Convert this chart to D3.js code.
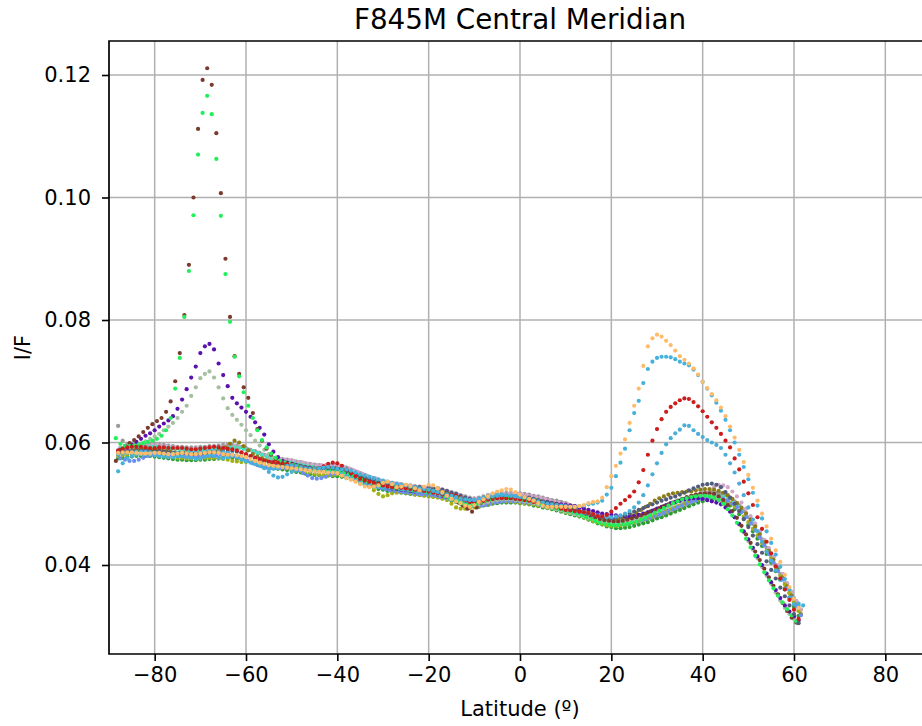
<!DOCTYPE html>
<html>
<head>
<meta charset="utf-8">
<script src="https://cdn.jsdelivr.net/npm/d3@7"></script>
<style>
  body { margin: 0; background: #fff; }
  svg { display: block; font-family: 'DejaVu Sans', sans-serif; }
</style>
</head>
<body>
<svg id="chart" width="922" height="726"></svg>
<script>
// I/F values below are stored x 10^4, one value per degree of latitude

const xTicks = [-80, -60, -40, -20, 0, 20, 40, 60, 80]
const yTicks = [400, 600, 800, 1000, 1200]

// left (south) peak
const brownVals = [
  570,588,594,599,604,610,617,624,630,635,640,650,667,700,746,808,890,1000,1112,1192,
  1211,1184,1105,1007,900,805,741,712,690,673,648,622,603,590,580,573,569,567,565,564,
  562,560,558,557,556,556,557,558,558,556,553,550,547,544,541,538,535,532,530,528,
  527,526,525,524,523,522,521,521,520,519,518,516,514,511,507,502,497,492,487,494,
  502,507,509,510,511,511,511,510,509,508,507,506,504,503,501,499,497,495,493,491,
  489,487,485,483,480,477,475,473,472,471,471,472,474,476,478,481,484,487,490,493,
  496,499,502,505,508,511,513,515,516,517,517,516,512,506,498,488,477,464,450,436,
  422,408,394,380,366,352,338,325,314,306]
const greenVals = [
  607,598,594,594,595,597,599,601,603,606,611,620,640,688,738,805,880,971,1070,1138,
  1166,1136,1063,970,875,797,740,708,682,660,640,620,604,592,582,575,570,567,565,563,
  561,559,557,556,555,555,555,555,554,553,551,548,545,542,539,536,533,531,529,528,
  527,526,525,524,523,522,521,520,519,518,517,515,513,510,507,504,501,499,498,500,
  503,506,508,509,510,510,510,509,508,507,506,504,502,500,498,496,494,492,490,488,
  486,484,481,478,475,472,469,467,466,465,465,466,467,469,471,474,477,481,485,489,
  493,497,501,504,507,509,511,512,513,513,512,510,506,500,491,481,469,456,443,429,
  415,401,388,375,362,350,339,328,318,308]
const purpleVals = [
  586,588,591,596,601,606,611,615,620,626,631,636,643,655,670,687,706,724,746,757,
  761,752,729,710,692,673,664,657,650,642,633,624,613,597,585,576,570,567,565,563,
  561,559,557,556,555,555,555,556,556,555,552,548,544,540,536,533,530,528,527,526,
  525,524,523,522,521,520,520,519,518,517,515,513,511,509,507,505,504,503,503,504,
  505,507,508,509,510,510,509,509,508,507,506,505,504,503,502,501,500,499,498,497,
  496,494,492,490,488,486,484,483,482,481,480,479,479,480,482,484,486,489,492,495,
  498,501,503,505,507,508,509,509,508,506,504,502,499,494,487,478,467,455,442,428,
  414,400,386,372,359,346,334,324,316,310]
const sageVals = [
  585,587,590,592,595,598,602,606,610,614,620,626,632,640,650,660,676,690,705,712,
  716,706,690,672,656,645,637,629,620,612,603,595,588,581,575,570,567,565,564,563,
  561,559,557,556,555,554,554,554,554,553,550,546,542,539,536,533,531,529,528,527,
  526,525,524,523,522,521,520,519,518,517,515,513,510,507,504,501,499,498,498,499,
  501,503,505,506,507,507,507,506,505,504,503,501,499,497,495,493,491,489,487,485,
  483,481,479,477,475,473,471,470,469,469,469,470,472,474,477,480,483,486,489,492,
  495,498,501,504,507,509,511,513,514,514,513,510,505,498,489,478,466,453,439,425,
  411,397,383,369,355,342,330,320,312,307]

// right (north) peak
const orangeVals = [
  583,584,584,584,583,582,582,582,583,583,582,581,581,582,583,582,581,581,582,583,
  584,584,583,581,580,580,579,578,576,573,570,567,565,563,562,561,560,559,558,557,
  556,555,554,553,552,552,551,551,550,546,542,539,536,532,528,527,528,530,534,536,
  532,527,528,531,529,525,522,528,531,530,525,519,513,508,504,501,497,495,498,503,
  507,512,517,520,522,524,523,519,515,511,508,505,501,497,495,495,495,495,495,495,
  495,496,498,501,503,504,510,527,545,562,582,605,632,660,688,725,757,770,776,773,
  766,759,750,741,735,729,721,711,699,689,679,669,657,643,626,608,588,568,547,526,
  505,484,463,443,424,405,384,364,345,330]
const blueHighVals = [
  553,566,574,578,580,581,581,580,579,578,577,576,576,577,578,577,575,573,574,577,
  579,578,575,574,576,578,576,572,569,567,565,563,560,558,557,558,560,562,563,562,
  560,558,557,557,558,559,560,559,557,556,556,554,551,548,546,544,542,540,538,536,
  534,533,531,530,528,527,525,524,523,521,519,517,515,513,511,509,507,506,506,507,
  508,510,512,513,514,514,513,512,511,510,508,506,504,502,500,499,498,497,496,495,
  495,496,497,499,500,502,505,515,526,545,567,590,620,648,668,697,720,732,738,740,
  740,739,736,732,729,726,719,710,699,688,677,665,652,637,620,600,580,560,540,518,
  497,476,455,436,417,397,377,360,346,337,334]
const redVals = [
  587,590,592,593,593,593,592,591,591,592,592,591,591,591,591,590,589,589,590,591,
  592,593,592,591,590,589,587,584,581,578,575,573,571,569,568,567,566,565,564,562,
  560,558,557,557,558,561,565,567,566,562,556,550,545,541,538,536,534,532,530,528,
  527,526,526,525,524,523,522,521,520,518,517,515,514,514,513,510,506,503,502,503,
  505,507,508,509,509,509,509,508,507,506,505,503,502,500,498,496,494,492,490,489,
  488,487,486,485,483,480,479,482,487,493,500,506,512,520,535,555,580,603,622,638,
  650,658,664,669,672,671,666,659,651,642,633,624,614,603,592,574,556,536,517,498,
  478,459,438,419,398,378,360,343,327,312]
const blueLowVals = [
  580,582,583,584,585,585,585,584,583,582,581,581,582,583,584,584,583,583,584,585,
  586,586,585,584,583,581,578,575,571,568,565,562,558,552,546,543,544,548,552,554,
  555,555,554,553,553,552,552,551,550,548,545,541,538,535,532,530,528,527,526,526,
  526,525,524,523,522,521,520,519,518,517,516,514,512,510,508,506,505,505,506,508,
  510,512,514,515,515,514,513,512,511,509,507,505,503,501,499,497,495,493,491,489,
  487,486,485,484,483,481,479,478,478,479,481,484,488,494,502,514,530,548,566,583,
  597,607,615,621,628,627,620,614,609,604,600,596,591,580,566,551,533,514,494,474,
  455,438,422,407,391,376,360,346,336,334]

// band series (no peak)
const slateVals = [
  583,584,585,586,587,587,587,587,587,586,585,584,583,582,582,581,581,581,582,583,
  584,584,585,585,586,586,585,583,580,577,575,572,570,568,566,565,564,563,563,562,
  561,560,559,558,558,558,558,557,557,556,554,551,549,546,543,541,539,536,534,532,
  531,530,529,528,528,527,527,526,526,525,525,523,521,518,516,513,510,508,506,506,
  507,508,510,511,512,513,513,512,512,511,510,508,506,504,503,501,499,497,495,492,
  490,488,486,484,482,480,478,477,476,477,479,481,484,487,490,493,496,499,502,505,
  507,510,512,515,518,522,525,528,531,532,533,531,527,519,510,500,488,475,462,448,
  434,420,406,392,378,363,349,334,320,305]
const oliveVals = [
  584,585,586,587,588,588,588,588,588,587,586,585,584,583,583,582,582,582,582,583,
  584,585,588,592,598,603,600,594,587,581,577,574,571,568,566,565,564,563,561,560,
  558,557,556,555,555,554,554,553,553,552,550,547,544,541,538,535,532,530,528,527,
  526,525,524,523,522,521,521,520,520,519,519,518,516,514,511,507,503,500,499,498,
  500,502,504,506,507,508,508,508,508,507,506,505,504,502,501,499,497,495,493,491,
  489,486,484,481,479,477,475,474,474,474,476,478,481,485,490,495,500,505,509,512,
  515,517,518,519,520,520,522,523,524,524,523,521,518,514,508,501,493,484,474,463,
  450,437,423,409,395,380,365,350,335,320]
const yellowOliveVals = [
  578,579,580,581,581,581,581,581,580,579,578,577,576,575,575,574,574,574,574,575,
  575,575,574,573,572,570,569,568,568,569,570,569,567,564,562,560,559,558,557,556,
  554,552,551,549,548,547,547,547,548,547,546,543,540,537,533,528,522,516,512,514,
  517,518,519,518,517,515,514,513,512,511,510,508,506,500,494,492,492,493,494,496,
  498,500,502,503,504,504,504,503,502,501,500,499,497,496,494,493,491,489,487,485,
  483,481,478,475,472,470,467,465,464,464,465,466,468,470,472,474,477,479,482,485,
  488,491,494,497,500,503,505,507,509,510,511,510,509,505,501,495,488,479,470,459,
  448,436,423,410,396,382,368,354,339,325]
const darkGreenVals = [
  574,575,576,577,578,578,578,578,577,576,575,574,573,572,572,571,571,571,572,572,
  573,573,574,575,575,575,574,573,571,569,567,564,562,560,559,557,556,555,554,552,
  551,549,548,547,547,546,546,545,545,544,542,540,537,534,532,529,527,524,523,521,
  520,519,518,517,516,515,515,514,513,512,511,509,507,505,503,500,498,496,496,495,
  497,498,500,501,502,502,502,502,501,500,499,497,496,494,493,491,489,487,485,483,
  481,479,477,474,471,468,466,463,462,460,460,461,462,464,466,468,470,473,476,478,
  481,484,487,490,493,496,499,502,504,506,507,507,505,502,497,491,483,475,465,455,
  443,431,418,404,390,376,362,347,332,317]
const turquoiseVals = [
  590,590,591,592,593,593,593,593,593,592,591,590,590,589,589,588,588,588,589,589,
  590,590,591,591,592,592,591,590,588,586,583,580,577,574,571,569,568,567,566,564,
  563,561,560,558,557,556,556,556,556,555,553,550,547,544,541,538,535,533,531,529,
  528,527,526,525,524,523,522,521,520,519,518,516,514,511,509,506,503,501,500,501,
  502,504,506,508,509,510,510,510,509,508,507,506,504,502,500,498,496,494,492,490,
  487,485,483,480,478,475,473,471,469,468,467,468,469,471,473,475,478,480,483,486,
  489,492,495,498,502,505,508,510,512,513,514,513,511,507,502,496,488,479,469,458,
  446,433,419,405,391,377,362,347,332,318]
const lilacVals = [
  592,593,594,595,596,596,596,596,596,595,594,593,592,591,591,590,590,590,590,591,
  592,592,593,594,594,594,593,591,589,586,584,581,579,576,575,573,572,571,570,568,
  567,565,564,563,563,563,563,563,562,560,558,555,552,549,546,543,541,538,536,534,
  533,532,531,529,528,527,527,526,525,524,523,521,519,517,515,512,510,508,508,508,
  510,512,514,515,516,516,516,516,515,514,513,511,510,508,506,504,502,500,498,495,
  493,490,488,485,482,479,477,474,473,471,471,472,473,475,477,479,481,483,485,488,
  491,494,497,501,504,508,512,516,519,523,527,531,530,527,520,512,502,492,480,468,
  455,441,427,413,399,385,370,356,341,327]
const greyVals = [
  627,603,597,598,598,598,598,598,598,597,596,595,594,593,593,592,592,592,593,593,
  594,594,595,596,596,596,595,593,591,588,586,583,580,577,575,574,573,572,571,569,
  568,566,565,564,563,562,562,562,562,561,559,556,553,550,547,544,542,539,537,535,
  534,533,532,531,530,529,528,527,527,526,525,523,521,519,517,514,512,510,509,510,
  512,514,516,517,518,518,518,517,517,516,515,513,512,510,508,506,505,503,501,498,
  496,493,491,488,486,483,480,478,476,475,475,476,477,479,481,483,486,488,491,493,
  496,499,502,505,508,510,513,515,517,518,519,518,517,514,510,504,497,488,478,467,
  455,442,428,414,400,385,370,355,340,325]
const cornflowerVals = [
  574,572,570,570,572,575,578,580,581,581,580,580,579,578,577,577,577,577,577,578,
  578,579,580,580,579,578,576,573,570,566,563,561,559,558,558,558,558,559,557,555,
  550,546,542,541,542,544,547,549,550,551,549,546,542,539,535,532,529,526,524,522,
  521,520,519,518,517,516,515,515,514,513,511,510,508,506,503,501,499,497,497,497,
  498,500,502,503,504,504,504,504,503,502,501,500,498,497,495,494,492,490,488,486,
  484,482,480,478,475,473,471,469,468,467,467,468,469,471,473,475,477,480,482,485,
  488,491,494,497,500,503,505,508,510,511,511,511,508,505,500,494,486,478,468,457,
  445,432,418,404,390,376,362,347,333,318]
const tanVals = [
  591,592,593,594,595,595,595,595,595,594,593,592,591,590,590,589,589,589,590,590,
  591,591,592,593,593,593,592,590,588,585,583,580,578,575,573,572,571,570,569,567,
  566,564,563,562,561,560,560,560,560,559,557,554,551,548,545,542,540,537,535,533,
  531,530,529,528,527,526,525,524,524,523,522,520,518,516,514,511,509,507,506,507,
  509,511,513,514,515,515,515,514,514,513,512,510,509,507,506,504,503,501,499,496,
  494,491,489,486,484,481,478,475,473,471,470,470,470,471,472,474,476,478,480,482,
  485,488,491,494,498,501,505,508,511,513,515,515,514,511,507,501,494,485,476,465,
  453,440,427,413,399,385,370,356,341,327]

// first latitude of each series; draw order, first = bottom
const series = [
  { values: tanVals, color: '#c4a08e', lat0: -87.5 },
  { values: greyVals, color: '#9a9a9a', lat0: -88 },
  { values: lilacVals, color: '#d2a6cb', lat0: -87.5 },
  { values: turquoiseVals, color: '#40e3bc', lat0: -87.5 },
  { values: darkGreenVals, color: '#2d9e36', lat0: -88 },
  { values: yellowOliveVals, color: '#a4b012', lat0: -88 },
  { values: oliveVals, color: '#8a7c16', lat0: -87.5 },
  { values: cornflowerVals, color: '#6c8ef0', lat0: -87.5 },
  { values: sageVals, color: '#a5c0a0', lat0: -88 },
  { values: purpleVals, color: '#5a12ae', lat0: -88 },
  { values: brownVals, color: '#7a3b2e', lat0: -88.5 },
  { values: greenVals, color: '#1ff05a', lat0: -88.5 },
  { values: slateVals, color: '#515b7a', lat0: -88 },
  { values: blueLowVals, color: '#4aaed6', lat0: -88 },
  { values: redVals, color: '#cc1c1c', lat0: -88 },
  { values: blueHighVals, color: '#45b2dc', lat0: -88 },
  { values: orangeVals, color: '#ffbb6a', lat0: -88 },
]

const svg = d3.select('#chart')

const plotLeft = 109
const plotTop = 41
const plotBottom = 654
const plotRight = 931

const x = d3.scaleLinear().domain([-90, 90]).range([plotLeft, plotRight])
const y = d3.scaleLinear().domain([254.7, 1255.5]).range([plotBottom, plotTop])

// --------------------------------------------------------------
// grid
svg
  .append('g')
  .attr('class', 'grid')
  .selectAll('line')
  .data(xTicks)
  .join('line')
  .attr('x1', (d) => x(d))
  .attr('x2', (d) => x(d))
  .attr('y1', plotTop)
  .attr('y2', plotBottom)
  .attr('stroke', '#b0b0b0')
  .attr('stroke-width', 1.5)

svg
  .append('g')
  .attr('class', 'grid')
  .selectAll('line')
  .data(yTicks)
  .join('line')
  .attr('x1', plotLeft)
  .attr('x2', plotRight)
  .attr('y1', (d) => y(d))
  .attr('y2', (d) => y(d))
  .attr('stroke', '#b0b0b0')
  .attr('stroke-width', 1.5)

// --------------------------------------------------------------
// dots
series.forEach((s) => {
  svg
    .append('g')
    .attr('fill', s.color)
    .selectAll('circle')
    .data(s.values)
    .join('circle')
    .attr('cx', (d, i) => x(s.lat0 + i))
    .attr('cy', (d) => y(d))
    .attr('r', 2.1)
})

// --------------------------------------------------------------
// axes
const xAxis = d3
  .axisBottom(x)
  .tickValues(xTicks)
  .tickSize(7)
  .tickPadding(6)
  .tickFormat(d3.format('d'))

const yAxis = d3
  .axisLeft(y)
  .tickValues(yTicks)
  .tickSize(7)
  .tickPadding(11)
  .tickFormat((d) => d3.format('.2f')(d / 1e4))

const gx = svg.append('g').attr('transform', `translate(0,${plotBottom})`).call(xAxis)
const gy = svg.append('g').attr('transform', `translate(${plotLeft},0)`).call(yAxis)

;[gx, gy].forEach((g) => {
  g.select('.domain').remove()
  g.selectAll('.tick line').attr('stroke', '#000').attr('stroke-width', 1.6)
  g.selectAll('.tick text')
    .attr('fill', '#000')
    .style('font-family', 'DejaVu Sans')
    .style('font-size', '21px')
})

// spines (right one falls outside the window)
svg
  .append('path')
  .attr('d', `M${plotRight},${plotTop}H${plotLeft}V${plotBottom}H${plotRight}`)
  .attr('fill', 'none')
  .attr('stroke', '#000')
  .attr('stroke-width', 1.7)

// --------------------------------------------------------------
// labels
svg
  .append('text')
  .attr('x', (plotLeft + plotRight) / 2)
  .attr('y', 29)
  .attr('text-anchor', 'middle')
  .style('font-size', '27.8px')
  .text('F845M Central Meridian')

svg
  .append('text')
  .attr('x', (plotLeft + plotRight) / 2)
  .attr('y', 716)
  .attr('text-anchor', 'middle')
  .style('font-size', '21px')
  .text('Latitude (º)')

svg
  .append('text')
  .attr('transform', `translate(30,${(plotTop + plotBottom) / 2}) rotate(-90)`)
  .attr('text-anchor', 'middle')
  .style('font-size', '21px')
  .text('I/F')
</script>
</body>
</html>
